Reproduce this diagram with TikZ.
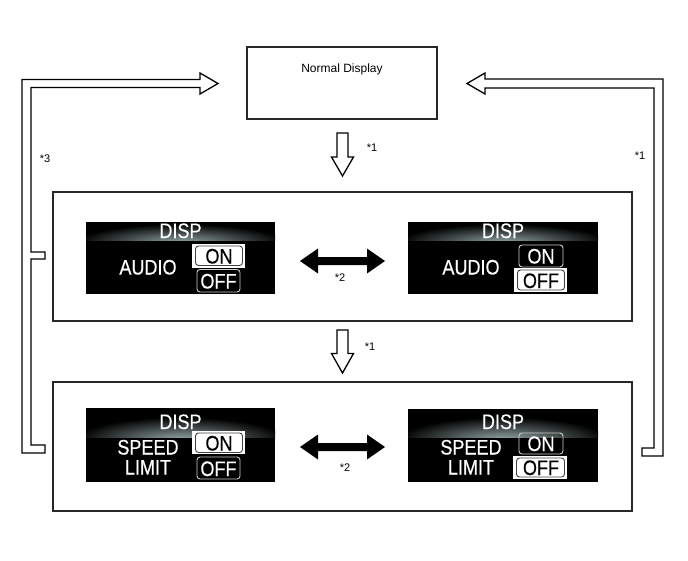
\documentclass[tikz,border=0pt]{standalone}
\usepackage{fontspec}
\setmainfont{Liberation Sans}
\newfontfamily\dispfont[FakeStretch=0.86,FakeBold=0.4]{Liberation Sans}
\definecolor{glowc}{RGB}{150,170,168}
\definecolor{lineg}{RGB}{40,40,40}
\tikzset{
  frame/.style={draw=lineg, line width=1.3pt, inner sep=0pt},
  tube/.style={draw=black, line width=1.3pt, fill=white, line join=miter},
  disptext/.style={text=white, font=\dispfont\fontsize{21}{22}\selectfont, inner sep=0pt, text height=15pt, text depth=0pt},
  note/.style={font=\fontsize{11}{12}\selectfont, inner sep=0pt},
  selbg/.style={fill=white},
  selbox/.style={draw=black!75, line width=0.9pt, rounded corners=3pt},
  plainbox/.style={draw=white!80!black, line width=0.9pt, rounded corners=3pt},
}
\begin{document}
\begin{tikzpicture}[x=1pt,y=-1pt]
\useasboundingbox (0,0) rectangle (688,560);
\fill[white] (0,0) rectangle (688,560);

% boxes
\node[frame, minimum width=190pt, minimum height=72pt] (normal) at (342,83) {};
\node[font=\fontsize{12}{14}\selectfont, inner sep=0pt, text height=8.6pt, text depth=0pt] (normaltxt) at (342,68) {Normal Display};
\node[frame, minimum width=579pt, minimum height=129pt] (mid) at (342.5,256.5) {};
\node[frame, minimum width=579pt, minimum height=129pt] (bot) at (342.5,446.5) {};

% hollow down arrows
\draw[tube] (337,133) -- (348,133) -- (348,157) -- (353.5,157) -- (342.5,176) -- (331.5,157) -- (337,157) -- cycle;
\draw[tube] (337,330) -- (348,330) -- (348,353.5) -- (353.5,353.5) -- (342.5,373) -- (331.5,353.5) -- (337,353.5) -- cycle;
\node[note] (n1a) at (372,148) {*1};
\node[note] (n1b) at (370,347) {*1};

% left return tube
\draw[tube] (22,453) -- (22,79.5) -- (200,79.5) -- (200,73) -- (218,83.5) -- (200,94) -- (200,87.5) -- (31,87.5) -- (31,252) -- (45,252) -- (45,259) -- (31,259) -- (31,445) -- (45,445) -- (45,453) -- cycle;
\node[note] (n3) at (45,159) {*3};

% right return tube
\draw[tube] (663,456) -- (663,79) -- (485,79) -- (485,73) -- (467,83.5) -- (485,94) -- (485,88) -- (654,88) -- (654,448) -- (642,448) -- (642,456) -- cycle;
\node[note] (n1c) at (640,156) {*1};

% double arrows
\fill[black] (300,261) -- (318,248.5) -- (318,257) -- (367,257) -- (367,248.5) -- (385,261) -- (367,273.5) -- (367,265) -- (318,265) -- (318,273.5) -- cycle;
\node[note] (n2a) at (340,278) {*2};
\fill[black] (300,447) -- (318,434.5) -- (318,443) -- (367,443) -- (367,434.5) -- (385,447) -- (367,459.5) -- (367,451) -- (318,451) -- (318,459.5) -- cycle;
\node[note] (n2b) at (345,468) {*2};

% ---- panel 1: AUDIO, ON selected
\begin{scope}[shift={(86,222)}]
  \fill[black] (0,0) rectangle (189,72);
  \begin{scope}
    \clip (0,0) rectangle (189,18);
    \shade[inner color=glowc, outer color=black] (94.5,21) ellipse (105pt and 19pt);
  \end{scope}
  \node[disptext] (p1disp) at (94.5,8.5) {DISP};
  \node[disptext] (p1lab) at (62,45) {AUDIO};
  \fill[selbg] (106,22) rectangle (159,45.5);
  \draw[selbox] (109.5,24) rectangle (156.5,43.5);
  \node[disptext, text=black] (p1on) at (133,34) {ON};
  \draw[plainbox] (111,47.5) rectangle (154,70);
  \node[disptext] (p1off) at (132.5,59) {OFF};
\end{scope}

% ---- panel 2: AUDIO, OFF selected
\begin{scope}[shift={(408,222)}]
  \fill[black] (0,0) rectangle (190,72);
  \begin{scope}
    \clip (0,0) rectangle (190,18);
    \shade[inner color=glowc, outer color=black] (95,21) ellipse (105pt and 19pt);
  \end{scope}
  \node[disptext] (p2disp) at (95,8.5) {DISP};
  \node[disptext] (p2lab) at (63,45) {AUDIO};
  \draw[plainbox] (111,23) rectangle (155,45);
  \node[disptext] (p2on) at (133,34) {ON};
  \fill[selbg] (106,46) rectangle (159,70);
  \draw[selbox] (109.5,48) rectangle (156.5,68);
  \node[disptext, text=black] (p2off) at (133,58.5) {OFF};
\end{scope}

% ---- panel 3: SPEED LIMIT, ON selected
\begin{scope}[shift={(86,408)}]
  \fill[black] (0,0) rectangle (189,74);
  \begin{scope}
    \clip (0,0) rectangle (189,29);
    \shade[inner color=glowc, outer color=black] (94.5,32) ellipse (105pt and 23pt);
  \end{scope}
  \node[disptext] (p3disp) at (94.5,13.5) {DISP};
  \node[disptext] (p3lab) at (62,39) {SPEED};
  \node[disptext] (p3lab2) at (62,59) {LIMIT};
  \fill[selbg] (106,23) rectangle (159,46);
  \draw[selbox] (109.5,25) rectangle (156.5,44.5);
  \node[disptext, text=black] (p3on) at (133,35) {ON};
  \draw[plainbox] (111,49) rectangle (154,71);
  \node[disptext] (p3off) at (132.5,60.5) {OFF};
\end{scope}

% ---- panel 4: SPEED LIMIT, OFF selected
\begin{scope}[shift={(408,409)}]
  \fill[black] (0,0) rectangle (190,73);
  \begin{scope}
    \clip (0,0) rectangle (190,28);
    \shade[inner color=glowc, outer color=black] (95,31) ellipse (105pt and 23pt);
  \end{scope}
  \node[disptext] (p4disp) at (95,12.5) {DISP};
  \node[disptext] (p4lab) at (63,38) {SPEED};
  \node[disptext] (p4lab2) at (63,58) {LIMIT};
  \draw[plainbox] (111,24) rectangle (155,45);
  \node[disptext] (p4on) at (133,34.5) {ON};
  \fill[selbg] (105,47) rectangle (159,70);
  \draw[selbox] (108.5,49) rectangle (156.5,68);
  \node[disptext, text=black] (p4off) at (133,58.5) {OFF};
\end{scope}
\end{tikzpicture}
\end{document}
